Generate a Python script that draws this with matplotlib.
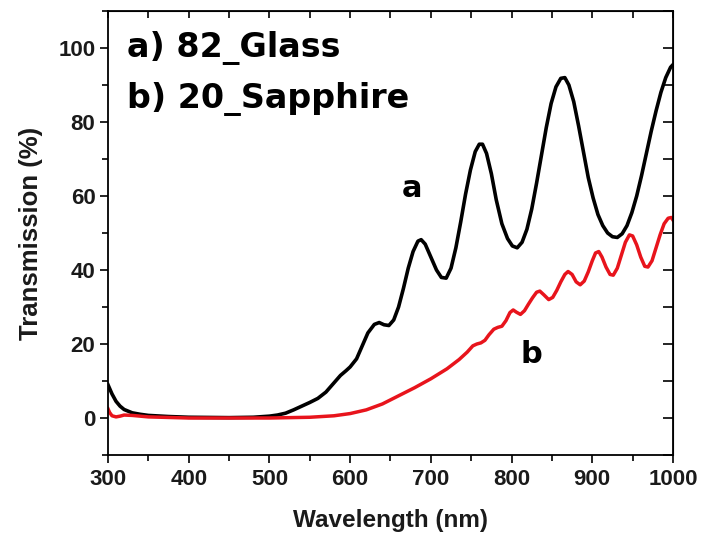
import matplotlib
matplotlib.use("Agg")
import matplotlib.pyplot as plt
from matplotlib.ticker import MultipleLocator

# curve a) 82_Glass
wl_a = [300, 305, 310, 315, 320, 330, 340, 350, 375, 400, 450, 480, 500, 510, 520,
        530, 540, 550, 560, 570, 580, 588, 595, 600, 608, 615, 622, 630, 636, 642,
        648, 654, 660, 666, 672, 678, 684, 688, 693, 700, 707, 713, 719, 725, 731,
        737, 743, 749, 755, 760, 764, 769, 775, 781, 788, 795, 801, 807, 813, 819,
        825, 831, 837, 843, 849, 855, 861, 866, 871, 877, 883, 889, 895, 901, 907,
        913, 919, 925, 931, 937, 943, 949, 955, 961, 967, 973, 979, 985, 991, 997, 1000]
tr_a = [9.0, 6.5, 4.5, 3.2, 2.3, 1.4, 1.0, 0.7, 0.4, 0.2, 0.1, 0.2, 0.5, 0.8, 1.3,
        2.2, 3.2, 4.2, 5.3, 7.0, 9.5, 11.5, 12.8, 13.8, 16.0, 19.5, 23.0, 25.3, 25.8, 25.2,
        25.0, 26.5, 30.0, 35.0, 40.5, 45.0, 47.8, 48.2, 47.0, 43.5, 40.0, 38.0, 37.8, 40.5, 46.0,
        53.0, 60.5, 67.0, 72.0, 74.0, 74.0, 71.5, 66.0, 59.0, 52.5, 48.5, 46.5, 46.0, 47.5, 51.0,
        56.5, 63.5, 71.0, 78.5, 85.0, 89.5, 91.8, 92.0, 90.0, 85.5, 79.0, 72.0, 65.0, 59.5, 55.0,
        52.0, 50.0, 49.0, 48.8, 49.8, 52.0, 55.5, 60.0, 65.5, 71.5, 77.5, 83.0, 88.0, 92.0, 94.8, 95.5]

# curve b) 20_Sapphire
wl_b = [300, 302, 305, 310, 315, 320, 330, 350, 400, 450, 500, 550, 580, 600, 620,
        640, 660, 680, 700, 720, 735, 745, 752, 757, 762, 767, 772, 778, 783, 788,
        793, 798, 802, 806, 811, 816, 821, 826, 831, 835, 840, 846, 851, 856, 861,
        866, 870, 875, 880, 885, 890, 895, 900, 904, 908, 912, 917, 922, 926, 931,
        936, 941, 946, 950, 955, 960, 965, 969, 974, 979, 984, 989, 994, 998, 1000]
tr_b = [2.5, 1.5, 0.6, 0.3, 0.5, 0.8, 0.7, 0.3, 0.0, 0.0, 0.0, 0.2, 0.6, 1.2, 2.2,
        3.8, 6.0, 8.2, 10.6, 13.3, 15.8, 17.8, 19.5, 20.0, 20.3, 21.0, 22.5, 24.0, 24.5, 24.8,
        26.3, 28.5, 29.2, 28.6, 28.0, 29.0, 30.8, 32.5, 34.0, 34.3, 33.3, 32.0, 32.6, 34.5, 36.8,
        38.8, 39.6, 38.8, 36.8, 36.0, 37.0, 39.5, 42.5, 44.6, 45.0, 43.5, 40.8, 38.8, 38.6, 40.5,
        44.0, 47.5, 49.5, 49.2, 46.8, 43.5, 41.0, 40.8, 42.5, 46.0, 49.5, 52.5, 54.0, 54.2, 53.5]

plt.rcParams['font.family'] = ['Liberation Sans', 'DejaVu Sans']

fig = plt.figure(figsize=(7.02, 5.40), dpi=100)
ax = fig.add_axes([0.1538, 0.1574, 0.8049, 0.8222])

ax.plot(wl_a, tr_a, color="black", lw=2.6, solid_joinstyle="round")
ax.plot(wl_b, tr_b, color="#e8141c", lw=2.5, solid_joinstyle="round")

ax.set_xlim(300, 1000)
ax.set_ylim(-10, 110)
ax.xaxis.set_major_locator(MultipleLocator(100))
ax.xaxis.set_minor_locator(MultipleLocator(50))
ax.yaxis.set_minor_locator(MultipleLocator(10))
ax.set_yticks([0, 20, 40, 60, 80, 100])

ax.tick_params(which="major", direction="out", length=6, width=1.2, labelsize=16, pad=3)
ax.tick_params(axis="x", which="major", pad=4)
ax.tick_params(which="minor", direction="out", length=4, width=1.2)
for lab in ax.get_xticklabels() + ax.get_yticklabels():
    lab.set_fontweight("bold")
    lab.set_color("#1a1a1a")

for sp in ax.spines.values():
    sp.set_linewidth(1.3)

# inward ticks on top and right
top = ax.secondary_xaxis("top")
top.xaxis.set_major_locator(MultipleLocator(50))
top.tick_params(direction="in", length=5, width=1.2, labeltop=False)
right = ax.secondary_yaxis("right")
right.yaxis.set_major_locator(MultipleLocator(10))
right.tick_params(direction="in", length=7, width=1.2, labelright=False)

ax.set_xlabel("Wavelength (nm)", fontsize=17.5, fontweight="bold", labelpad=14, color="#1a1a1a")
ax.set_ylabel("Transmission (%)", fontsize=18.5, fontweight="bold", labelpad=11, color="#1a1a1a")

ax.text(0.033, 0.896, "a) 82_Glass", transform=ax.transAxes, fontsize=24,
        fontweight="bold", family="DejaVu Sans", va="baseline", ha="left")
ax.text(0.033, 0.781, "b) 20_Sapphire", transform=ax.transAxes, fontsize=24,
        fontweight="bold", family="DejaVu Sans", va="baseline", ha="left")
ax.text(677, 59.6, "a", fontsize=22, fontweight="bold", family="DejaVu Sans", ha="center", va="baseline")
ax.text(825, 14.8, "b", fontsize=22, fontweight="bold", family="DejaVu Sans", ha="center", va="baseline")

fig.savefig("out.png", dpi=100)
